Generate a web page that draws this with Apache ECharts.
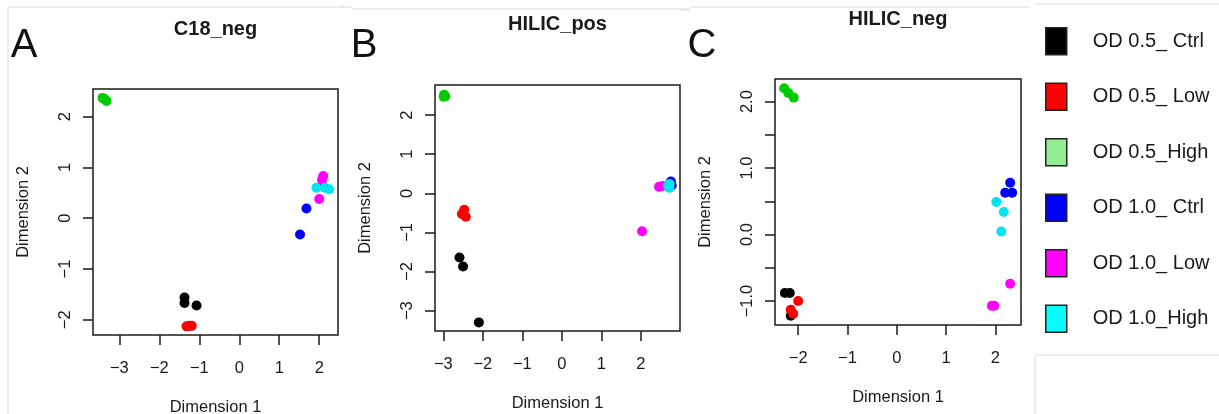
<!DOCTYPE html>
<html>
<head>
<meta charset="utf-8">
<script src="https://cdn.jsdelivr.net/npm/echarts@6/dist/echarts.min.js"></script>
<style>
  html, body { margin: 0; padding: 0; background: #fff; }
  #chart { width: 1219px; height: 414px; }
</style>
</head>
<body>
<div id="chart"></div>
<script>
// groups shown in the legend
const groups = ["OD 0.5_ Ctrl", "OD 0.5_ Low", "OD 0.5_High", "OD 1.0_ Ctrl", "OD 1.0_ Low", "OD 1.0_High"];
const pointColors = ["#000000", "#ff0000", "#00cd00", "#0000ff", "#ff00ff", "#00e5ee"];
const legendColors = ["#000000", "#ff0000", "#90ee90", "#0000ff", "#ff00ff", "#00ffff"];

const panelTitles = ["C18_neg", "HILIC_pos", "HILIC_neg"];
const panelLetters = ["A", "B", "C"];

// [dim1, dim2] per group, order as in groups
const c18Neg = [
  [[-1.37, -1.56], [-1.37, -1.67], [-1.07, -1.72]],
  [[-1.32, -2.13], [-1.25, -2.12], [-1.19, -2.12]],
  [[-3.42, 2.37], [-3.38, 2.35], [-3.32, 2.31]],
  [[1.52, -0.32], [1.68, 0.19], [2.08, 0.65]],
  [[2.10, 0.83], [2.07, 0.76], [2.00, 0.38]],
  [[1.93, 0.60], [2.25, 0.57], [2.14, 0.60]]
];
const hilicPos = [
  [[-2.59, -1.64], [-2.50, -1.87], [-2.10, -3.30]],
  [[-2.53, -0.53], [-2.47, -0.42], [-2.43, -0.60]],
  [[-2.98, 2.52], [-2.95, 2.48], [-2.99, 2.47]],
  [[2.76, 0.30], [2.78, 0.20], [2.74, 0.25]],
  [[2.03, -0.97], [2.46, 0.17], [2.55, 0.19]],
  [[2.69, 0.20], [2.73, 0.24], [2.72, 0.14]]
];
const hilicNeg = [
  [[-2.27, -0.88], [-2.17, -0.88], [-2.15, -1.22]],
  [[-2.00, -1.00], [-2.15, -1.13], [-2.10, -1.19]],
  [[-2.285, 2.20], [-2.20, 2.13], [-2.09, 2.06]],
  [[2.30, 0.78], [2.20, 0.63], [2.34, 0.63]],
  [[2.30, -0.74], [1.93, -1.07], [1.98, -1.07]],
  [[2.02, 0.49], [2.17, 0.34], [2.12, 0.045]]
];
const panels = [c18Neg, hilicPos, hilicNeg];

// axis ranges and tick values
const xRanges = [[-3.66, 2.47], [-3.21, 2.99], [-2.47, 2.52]];
const yRanges = [[-2.3, 2.545], [-3.52, 2.77], [-1.36, 2.34]];
const xTicks = [[-3, -2, -1, 0, 1, 2], [-3, -2, -1, 0, 1, 2], [-2, -1, 0, 1, 2]];
const yTicks = [[-2, -1, 0, 1, 2], [-3, -2, -1, 0, 1, 2], [-1, -0.5, 0, 0.5, 1, 1.5, 2]];
const yLabels = [[-2, -1, 0, 1, 2], [-3, -2, -1, 0, 1, 2], [-1, 0, 1, 2]];

const grids = [
  { left: 93, top: 89, width: 245, height: 246 },
  { left: 435, top: 85, width: 245, height: 246 },
  { left: 775, top: 79, width: 246, height: 246 }
];

const ink = "#1a1a1a";
const font = "Liberation Sans, Arial, sans-serif";
const minus = (s) => s.replace("-", "\u2212");

let chart = echarts.init(document.getElementById("chart"), null, { renderer: "canvas" });

let xAxes = [], yAxes = [], series = [], graphics = [];

for (let p = 0; p < 3; p++) {
  xAxes.push({
    type: "value", gridIndex: p, min: xRanges[p][0], max: xRanges[p][1],
    name: "Dimension 1", nameLocation: "middle", nameGap: 64,
    nameTextStyle: { fontSize: 16.5, color: ink, fontFamily: font },
    axisLine: { show: false, onZero: false },
    axisTick: { show: true, length: 10, customValues: xTicks[p], lineStyle: { color: ink, width: 1.5 } },
    axisLabel: { margin: 25, fontSize: 16.5, color: ink, fontFamily: font, customValues: xTicks[p],
      formatter: (v) => minus(String(v)) },
    splitLine: { show: false }
  });
  yAxes.push({
    type: "value", gridIndex: p, min: yRanges[p][0], max: yRanges[p][1],
    name: "Dimension 2", nameLocation: "middle", nameGap: 61,
    nameTextStyle: { fontSize: 16.5, color: ink, fontFamily: font },
    axisLine: { show: false, onZero: false },
    axisTick: { show: true, length: 10, customValues: yTicks[p], lineStyle: { color: ink, width: 1.5 } },
    axisLabel: { margin: 19, rotate: 90, fontSize: 16.5, color: ink, fontFamily: font, customValues: yLabels[p],
      formatter: (v) => minus(p === 2 ? v.toFixed(1) : String(v)) },
    splitLine: { show: false }
  });
  for (let g = 0; g < groups.length; g++) {
    series.push({
      type: "scatter", name: groups[g], xAxisIndex: p, yAxisIndex: p,
      data: panels[p][g], symbolSize: 10,
      itemStyle: { color: pointColors[g], opacity: 1 }
    });
  }
  let cx = grids[p].left + grids[p].width / 2;
  graphics.push({
    type: "text", x: cx, y: [29, 24, 19][p],
    style: { text: panelTitles[p], font: "bold 20px " + font, fill: ink, textAlign: "center", textVerticalAlign: "middle" }
  });
  graphics.push({
    type: "text", x: [24, 364, 702][p], y: 46,
    style: { text: panelLetters[p], font: "40px " + font, fill: "#111", textAlign: "center", textVerticalAlign: "middle" }
  });
}

// faint frame lines from the source figure
const frame = [
  [8, 7, 346, 7], [8, 7, 8, 414], [340, 7, 352, 7], [352, 9, 690, 9],
  [680, 10, 690, 10], [690, 7, 1030, 7], [1035, 4, 1219, 4],
  [1035, 355, 1219, 355], [1035, 355, 1035, 414]
];
frame.forEach((f) => {
  graphics.push({
    type: "line", shape: { x1: f[0], y1: f[1], x2: f[2], y2: f[3] },
    style: { stroke: "#dcdcdc", lineWidth: 1 }, silent: true
  });
});

let option = {
  animation: false,
  backgroundColor: "#fff",
  grid: grids.map((g) => Object.assign({
    show: true, borderColor: ink, borderWidth: 1.5, backgroundColor: "transparent",
    containLabel: false, outerBoundsMode: "none"
  }, g)),
  xAxis: xAxes,
  yAxis: yAxes,
  legend: {
    orient: "vertical", left: 1040, top: 22,
    itemWidth: 21, itemHeight: 27, itemGap: 27, icon: "rect",
    selectedMode: false,
    textStyle: { fontSize: 20, color: ink, fontFamily: font, padding: [0, 0, 0, 21] },
    data: groups.map((g, i) => ({
      name: g,
      itemStyle: { color: legendColors[i], borderColor: "#222", borderWidth: 1.5 }
    }))
  },
  graphic: graphics,
  series: series
};

chart.setOption(option);
</script>
</body>
</html>
